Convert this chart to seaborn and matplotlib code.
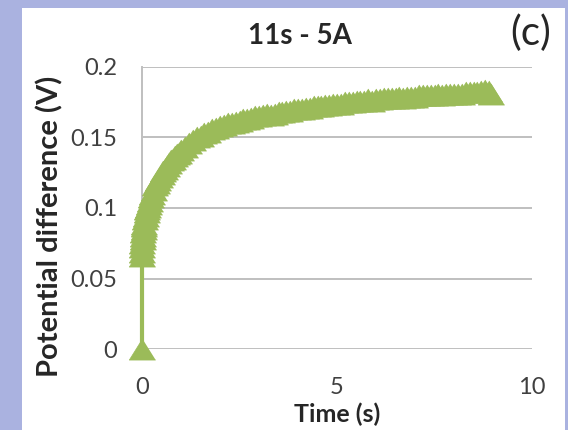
import numpy as np
import pandas as pd
import matplotlib
matplotlib.use('Agg')
import matplotlib.pyplot as plt
import seaborn as sns
from matplotlib.patches import Rectangle

# datos (tiempo en s, diferencia de potencial en V)
time_s = [0.0, 0.0, 0.0, 0.01, 0.01, 0.02, 0.02, 0.03, 0.04, 0.05, 0.06, 0.08,
          0.10, 0.12, 0.14, 0.16, 0.18, 0.20, 0.23, 0.26, 0.30, 0.34, 0.38, 0.42,
          0.46, 0.50, 0.55, 0.60, 0.65, 0.70, 0.75, 0.80, 0.85, 0.90, 0.95,
          1.0, 1.1, 1.2, 1.3, 1.4, 1.5, 1.6, 1.7, 1.8, 1.9,
          2.0, 2.1, 2.2, 2.3, 2.4, 2.5, 2.6, 2.7, 2.8, 2.9,
          3.0, 3.1, 3.2, 3.3, 3.4, 3.5, 3.6, 3.7, 3.8, 3.9,
          4.0, 4.1, 4.2, 4.3, 4.4, 4.5, 4.6, 4.7, 4.8, 4.9,
          5.0, 5.1, 5.2, 5.3, 5.4, 5.5, 5.6, 5.7, 5.8, 5.9,
          6.0, 6.1, 6.2, 6.3, 6.4, 6.5, 6.6, 6.7, 6.8, 6.9,
          7.0, 7.1, 7.2, 7.3, 7.4, 7.5, 7.6, 7.7, 7.8, 7.9,
          8.0, 8.1, 8.2, 8.3, 8.4, 8.5, 8.6, 8.7, 8.8, 8.9, 8.95]
voltage = [0.0, 0.066, 0.069, 0.072, 0.075, 0.078, 0.080, 0.083, 0.085, 0.087, 0.089, 0.092,
           0.094, 0.097, 0.099, 0.101, 0.103, 0.105, 0.108, 0.110, 0.113, 0.116, 0.118, 0.120,
           0.122, 0.124, 0.126, 0.128, 0.130, 0.132, 0.134, 0.135, 0.137, 0.138, 0.139,
           0.141, 0.143, 0.146, 0.148, 0.150, 0.151, 0.153, 0.154, 0.156, 0.157,
           0.158, 0.159, 0.160, 0.160, 0.161, 0.162, 0.163, 0.163, 0.164, 0.165,
           0.165, 0.166, 0.167, 0.166, 0.167, 0.168, 0.168, 0.169, 0.169, 0.170,
           0.170, 0.170, 0.171, 0.171, 0.172, 0.172, 0.172, 0.173, 0.173, 0.174,
           0.174, 0.174, 0.175, 0.175, 0.175, 0.176, 0.176, 0.176, 0.177, 0.176,
           0.177, 0.177, 0.178, 0.178, 0.178, 0.178, 0.179, 0.178, 0.179, 0.179,
           0.179, 0.180, 0.180, 0.180, 0.180, 0.180, 0.181, 0.180, 0.181, 0.181,
           0.181, 0.181, 0.181, 0.182, 0.182, 0.182, 0.182, 0.183, 0.184, 0.183, 0.181]

y_ticks = [0, 0.05, 0.1, 0.15, 0.2]
y_labels = ['0', '0.05', '0.1', '0.15', '0.2']
x_ticks = [0, 5, 10]

df = pd.DataFrame({'Time': time_s, 'Voltage': voltage})

sns.set_style('white')
plt.rcParams['font.family'] = ['Lato', 'DejaVu Sans']

green = '#9BBB59'
lavender = '#AAB2E0'

fig = plt.figure(figsize=(5.68, 4.3), dpi=100, facecolor=lavender)
# panel blanco sobre el fondo lavanda
fig.patches.append(Rectangle((22 / 568, 0), (565 - 22) / 568, (430 - 8) / 430,
                             transform=fig.transFigure, facecolor='white',
                             edgecolor='none', zorder=-10))

ax = fig.add_axes([142 / 568, 81 / 430, 390 / 568, 282 / 430])
ax.set_zorder(1)
ax.set_facecolor('white')

# triangulo ancho como en Excel
tri = [(0, 0.8), (-1, -0.8), (1, -0.8)]
sns.lineplot(data=df, x='Time', y='Voltage', estimator=None, sort=False, ax=ax,
             color=green, linewidth=3, marker=tri, markersize=19,
             markeredgecolor=green, markerfacecolor=green, markeredgewidth=0.5,
             clip_on=False, zorder=3)

ax.set_xlim(0, 10)
ax.set_ylim(0, 0.2)
ax.set_yticks(y_ticks)
ax.set_yticklabels(y_labels)
ax.set_xticks(x_ticks)
ax.grid(axis='y', color='#BFBFBF', linewidth=1.4)
ax.grid(axis='x', visible=False)
ax.set_axisbelow(True)
for s in ['top', 'right', 'bottom']:
    ax.spines[s].set_visible(False)
ax.spines['left'].set_color('#BFBFBF')
ax.spines['left'].set_linewidth(1.4)

ax.tick_params(axis='y', length=0, pad=18, labelsize=17, labelcolor='#404040')
ax.tick_params(axis='x', length=0, pad=20, labelsize=17, labelcolor='#404040')

ax.set_xlabel('Time (s)', fontsize=18, fontweight='bold')
ax.xaxis.set_label_coords(0.5, -0.19)
ax.set_ylabel('Potential difference (V)', fontsize=21, fontweight='bold')
ax.yaxis.set_label_coords(-0.202, 0.434)

fig.text(300 / 568, 1 - 36 / 430, '11s - 5A', fontsize=20, fontweight='bold',
         ha='center', va='center')
fig.text(531 / 568, 1 - 33 / 430, '(c)', fontsize=29, ha='center', va='center')

plt.savefig('out.png', dpi=100, facecolor=fig.get_facecolor())
plt.close()
